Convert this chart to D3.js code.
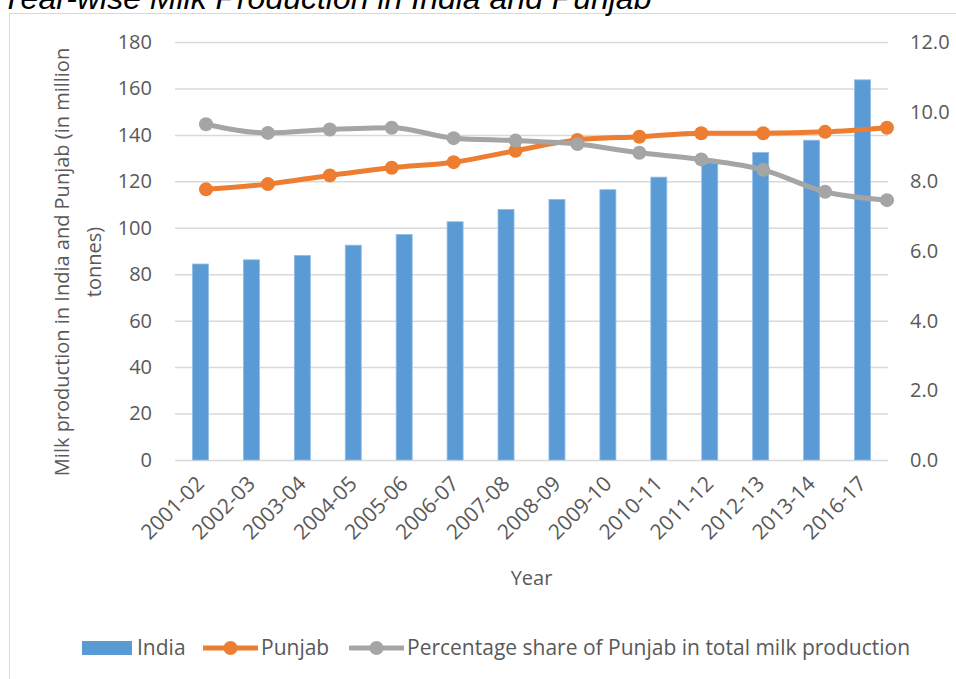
<!DOCTYPE html>
<html>
<head>
<meta charset="utf-8">
<script src="https://cdn.jsdelivr.net/npm/d3@7"></script>
<style>
  html, body { margin: 0; padding: 0; background: #fff; }
  svg { display: block; }
  text { font-family: "Open Sans", sans-serif; }
</style>
</head>
<body>
<svg id="chart" width="956" height="679"></svg>
<script>
// Milk production, India (bars, left axis) and Punjab (lines, right axis)
const years = ["2001-02","2002-03","2003-04","2004-05","2005-06","2006-07","2007-08",
               "2008-09","2009-10","2010-11","2011-12","2012-13","2013-14","2016-17"];
const india = [84.4, 86.2, 88.1, 92.5, 97.1, 102.6, 107.9, 112.2, 116.4, 121.8, 127.9, 132.4, 137.7, 163.7];
// Punjab series are plotted on the secondary axes (12 points)
const punjab = [7.77, 7.92, 8.17, 8.39, 8.55, 8.88, 9.19, 9.28, 9.38, 9.38, 9.42, 9.54];
const share  = [9.64, 9.39, 9.49, 9.54, 9.24, 9.17, 9.07, 8.82, 8.63, 8.33, 7.70, 7.46];
const leftTicks  = [0, 20, 40, 60, 80, 100, 120, 140, 160, 180];
const rightTicks = [0, 2, 4, 6, 8, 10, 12];

const svg = d3.select("#chart");
const plot = { left: 175, right: 888, top: 42, bottom: 460 };
const grey = "#595959";

// chart frame
svg.append("rect")
  .attr("x", 9.5).attr("y", 13.5)
  .attr("width", 960).attr("height", 700)
  .attr("fill", "none").attr("stroke", "#D9D9D9").attr("stroke-width", 1);

// title (italic, partially above the frame)
svg.append("text")
  .attr("x", 1).attr("y", 9)
  .style("font-family", "'Liberation Sans', Arial, sans-serif")
  .style("font-style", "italic")
  .style("font-size", "32px")
  .attr("fill", "#000")
  .text("Year-wise Milk Production in India and Punjab");

const x = d3.scaleBand().domain(years).range([plot.left, plot.right]).paddingInner(0).paddingOuter(0);
const xLine = d3.scalePoint().domain(d3.range(punjab.length)).range([plot.left + 31, plot.right - 1]);
const yL = d3.scaleLinear().domain([0, 180]).range([plot.bottom, plot.top]);
const yR = d3.scaleLinear().domain([0, 12]).range([plot.bottom, plot.top]);

// gridlines
svg.append("g")
  .attr("transform", `translate(${plot.left},0)`)
  .call(d3.axisLeft(yL).tickValues(leftTicks).tickSize(-(plot.right - plot.left)).tickFormat(""))
  .call(g => g.select(".domain").remove())
  .call(g => g.selectAll("line").attr("stroke", "#D9D9D9").attr("stroke-width", 1.5));

// left axis labels
svg.append("g")
  .attr("transform", `translate(${plot.left},0)`)
  .call(d3.axisLeft(yL).tickValues(leftTicks).tickSize(0).tickPadding(23).tickFormat(d3.format("d")))
  .call(g => g.select(".domain").remove())
  .call(g => g.selectAll("text").attr("fill", grey).style("font-size", "20px").style("font-family", "'Open Sans', sans-serif"));

// right axis labels
svg.append("g")
  .attr("transform", `translate(${plot.right},0)`)
  .call(d3.axisRight(yR).tickValues(rightTicks).tickSize(0).tickPadding(22).tickFormat(d3.format(".1f")))
  .call(g => g.select(".domain").remove())
  .call(g => g.selectAll("text").attr("fill", grey).style("font-size", "20px").style("font-family", "'Open Sans', sans-serif"));

// bars
svg.append("g").selectAll("rect")
  .data(years)
  .join("rect")
  .attr("x", d => x(d) + x.bandwidth() / 2 - 8)
  .attr("width", 16)
  .attr("y", (d, i) => yL(india[i]))
  .attr("height", (d, i) => yL(0) - yL(india[i]))
  .attr("fill", "#5B9BD5")
  .attr("stroke", "#8FBCE6")
  .attr("stroke-width", 0.8);

// x axis labels
const xl = svg.append("g");
xl.selectAll("text")
  .data(years)
  .join("text")
  .attr("transform", d => `translate(${x(d) + x.bandwidth() / 2 + 5},${plot.bottom + 25}) rotate(-45)`)
  .attr("text-anchor", "end")
  .attr("fill", grey)
  .style("font-size", "21px")
  .text(d => d);

// lines
function drawSeries(values, color) {
  const line = d3.line().x((d, i) => xLine(i)).y(d => yR(d)).curve(d3.curveMonotoneX);
  svg.append("path")
    .datum(values)
    .attr("d", line)
    .attr("fill", "none")
    .attr("stroke", color)
    .attr("stroke-width", 5)
    .attr("stroke-linejoin", "round")
    .attr("stroke-linecap", "round");
  svg.append("g").selectAll("circle")
    .data(values)
    .join("circle")
    .attr("cx", (d, i) => xLine(i))
    .attr("cy", d => yR(d))
    .attr("r", 7)
    .attr("fill", color);
}
drawSeries(punjab, "#ED7D31");
drawSeries(share, "#A5A5A5");

// axis titles
svg.append("text")
  .attr("x", (plot.left + plot.right) / 2)
  .attr("y", 585)
  .attr("text-anchor", "middle")
  .attr("fill", grey)
  .style("font-size", "20px")
  .text("Year");

const yTitle = svg.append("text")
  .attr("transform", "translate(0,262) rotate(-90)")
  .attr("text-anchor", "middle")
  .attr("fill", grey)
  .style("font-size", "20px");
yTitle.append("tspan").attr("x", 0).attr("y", 69).text("Milk production in India and Punjab (in million");
yTitle.append("tspan").attr("x", 0).attr("y", 101).text("tonnes)");

// legend
const legY = 648;
const leg = svg.append("g").style("font-size", "21px");
leg.append("rect").attr("x", 82).attr("y", legY - 7).attr("width", 50).attr("height", 14).attr("fill", "#5B9BD5");
leg.append("text").attr("x", 137).attr("y", legY + 7).attr("fill", grey).text("India");
leg.append("line").attr("x1", 203).attr("x2", 258).attr("y1", legY).attr("y2", legY)
  .attr("stroke", "#ED7D31").attr("stroke-width", 5);
leg.append("circle").attr("cx", 230.5).attr("cy", legY).attr("r", 7).attr("fill", "#ED7D31");
leg.append("text").attr("x", 261).attr("y", legY + 7).attr("fill", grey).text("Punjab");
leg.append("line").attr("x1", 349).attr("x2", 404).attr("y1", legY).attr("y2", legY)
  .attr("stroke", "#A5A5A5").attr("stroke-width", 5);
leg.append("circle").attr("cx", 376.5).attr("cy", legY).attr("r", 7).attr("fill", "#A5A5A5");
leg.append("text").attr("x", 407).attr("y", legY + 7).attr("fill", grey)
  .text("Percentage share of Punjab in total milk production");
</script>
</body>
</html>
